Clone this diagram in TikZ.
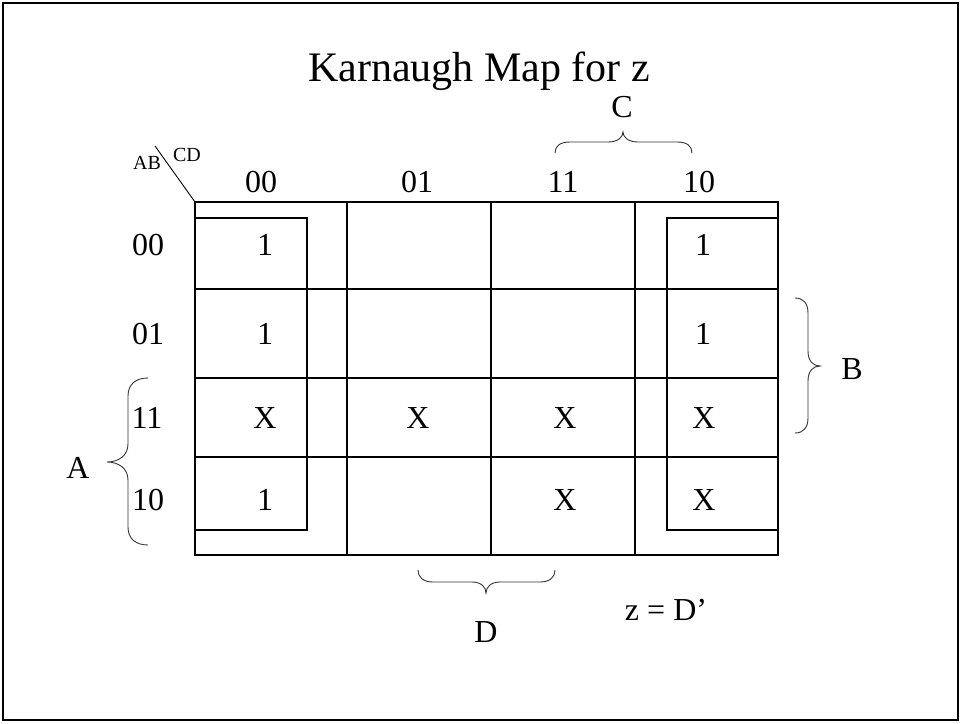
\documentclass[tikz,border=0pt]{standalone}
\usepackage{fontspec}
\setmainfont{Liberation Serif}
\begin{document}
\begin{tikzpicture}[x=1pt,y=-1pt,
  lbl/.style={inner sep=0pt,font=\fontsize{32}{34}\selectfont},
  small/.style={inner sep=0pt,font=\fontsize{20}{22}\selectfont},
  grid/.style={line width=1.6pt},
  loop/.style={line width=1.2pt},
  curly/.style={line width=0.9pt,draw=black!80}]
\useasboundingbox (0,0) rectangle (961,723);
% frame of the slide
\draw[line width=2.6pt] (3,3) rectangle (958,720);
% title
\node[inner sep=0pt,anchor=base,font=\fontsize{42}{44}\selectfont] (title) at (479,81) {Karnaugh Map for z};

% corner labels and diagonal
\coordinate (corner) at (195,202);
\coordinate (diagend) at (155,146);
\draw[line width=0.9pt] (corner) -- (diagend);
\node[small] (ab) at (147,163) {AB};
\node[small] (cd) at (187,155) {CD};

% outer grid
\draw[grid] (195,202) rectangle (778,555);
\draw[grid] (347,202) -- (347,555);
\draw[grid] (491,202) -- (491,555);
\draw[grid] (635,202) -- (635,555);
\draw[grid] (195,289) -- (778,289);
\draw[grid] (195,378) -- (778,378);
\draw[grid] (195,457) -- (778,457);

% groups of ones
\draw[loop] (195,218) -- (307,218) -- (307,530) -- (195,530);
\draw[loop] (778,218) -- (667,218) -- (667,530) -- (778,530);

% column labels
\node[lbl] (c00) at (261,182) {00};
\node[lbl] (c01) at (417,182) {01};
\node[lbl] (c11) at (563,182) {11};
\node[lbl] (c10) at (699,182) {10};
% row labels
\node[lbl] (r00) at (148,245) {00};
\node[lbl] (r01) at (148,334) {01};
\node[lbl] (r11) at (147,418) {11};
\node[lbl] (r10) at (148,500) {10};

% cell entries
\node[lbl] (m00a) at (265,245) {1};
\node[lbl] (m00d) at (703,245) {1};
\node[lbl] (m01a) at (265,334) {1};
\node[lbl] (m01d) at (703,334) {1};
\node[lbl] (m11a) at (265,418) {X};
\node[lbl] (m11b) at (418,418) {X};
\node[lbl] (m11c) at (565,418) {X};
\node[lbl] (m11d) at (704,418) {X};
\node[lbl] (m10a) at (265,500) {1};
\node[lbl] (m10c) at (565,500) {X};
\node[lbl] (m10d) at (704,500) {X};

% braces
\draw[curly] (555,153) .. controls (555,146) and (560,142) .. (570,142) -- (608,142)
  .. controls (618,142) and (623,137) .. (623,132)
  .. controls (623,137) and (628,142) .. (638,142) -- (677,142)
  .. controls (687,142) and (692,146) .. (692,153);
\node[lbl] (labC) at (622,107) {C};

\draw[curly] (418,570) .. controls (418,577) and (423,582) .. (433,582) -- (472,582)
  .. controls (481,582) and (486,587) .. (486,593)
  .. controls (486,587) and (491,582) .. (500,582) -- (540,582)
  .. controls (550,582) and (555,577) .. (555,570);
\node[lbl] (labD) at (486,632) {D};

\draw[curly] (148,378) .. controls (136,378) and (128,384) .. (128,396) -- (128,444)
  .. controls (128,456) and (118,462) .. (107,462)
  .. controls (118,462) and (128,468) .. (128,480) -- (128,527)
  .. controls (128,539) and (136,545) .. (148,545);
\node[lbl] (labA) at (78,468) {A};

\draw[curly] (795,298) .. controls (803,298) and (808,303) .. (808,313) -- (808,351)
  .. controls (808,361) and (813,366) .. (820,366)
  .. controls (813,366) and (808,371) .. (808,381) -- (808,418)
  .. controls (808,428) and (803,433) .. (795,433);
\node[lbl] (labB) at (852,369) {B};

% result
\node[lbl] (result) at (666,610) {z = D’};
\end{tikzpicture}
\end{document}
